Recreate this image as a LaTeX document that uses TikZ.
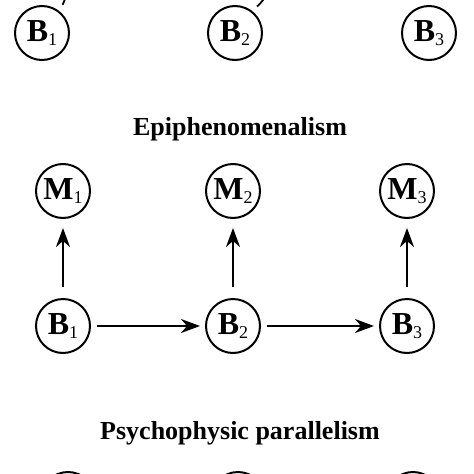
\documentclass[tikz,border=0pt]{standalone}
\usepackage{fontspec}
\setmainfont{Liberation Serif}
\usetikzlibrary{arrows.meta}

\newcommand{\lbl}[2]{\textbf{#1}\raisebox{-0.25ex}{\fontsize{18}{18}\selectfont #2}}

\begin{document}
\begin{tikzpicture}[x=1pt, y=-1pt, >=Stealth,
    state/.style={circle, draw, line width=2pt, minimum size=54pt, inner sep=0pt, font=\fontsize{32}{32}\selectfont},
    title/.style={anchor=base, font=\fontsize{26}{26}\selectfont\bfseries},
    arr/.style={-{Stealth[length=19pt, width=14pt, inset=6pt]}, line width=1.8pt},
    lnk/.style={line width=1.8pt}]
    \useasboundingbox (0,0) rectangle (474,474);
    \clip (0,0) rectangle (474,474);

    % Top row (cut off)
    \node[state] (tb1) at (42,33) {\lbl{B}{1}};
    \node[state] (tb2) at (235,33) {\lbl{B}{2}};
    \node[state] (tb3) at (429,33) {\lbl{B}{3}};
    \coordinate (up1) at (66,-4);
    \coordinate (up2) at (266,-4);
    \draw[lnk, shorten <=7pt] (tb1.55) to[bend right=12] (up1);
    \draw[lnk, shorten <=7pt] (tb2.55) to[bend right=12] (up2);

    % Epiphenomenalism
    \node[title] (epi) at (240,135) {Epiphenomenalism};
    \node[state] (em1) at (63,191) {\lbl{M}{1}};
    \node[state] (em2) at (233,191) {\lbl{M}{2}};
    \node[state] (em3) at (407,191) {\lbl{M}{3}};
    \node[state] (eb1) at (63,326) {\lbl{B}{1}};
    \node[state] (eb2) at (233,326) {\lbl{B}{2}};
    \node[state] (eb3) at (407,326) {\lbl{B}{3}};

    \draw[arr, shorten <=11pt, shorten >=9pt] (eb1) -- (em1);
    \draw[arr, shorten <=11pt, shorten >=9pt] (eb2) -- (em2);
    \draw[arr, shorten <=11pt, shorten >=9pt] (eb3) -- (em3);
    \draw[arr, shorten <=6pt, shorten >=5pt] (eb1) -- (eb2);
    \draw[arr, shorten <=6pt, shorten >=5pt] (eb2) -- (eb3);

    % Psychophysic parallelism (cut off)
    \node[title] (psy) at (240,439) {Psychophysic parallelism};
    \node[state] (pm1) at (68,499) {};
    \node[state] (pm2) at (238,499) {};
    \node[state] (pm3) at (413,499) {};
\end{tikzpicture}
\end{document}
